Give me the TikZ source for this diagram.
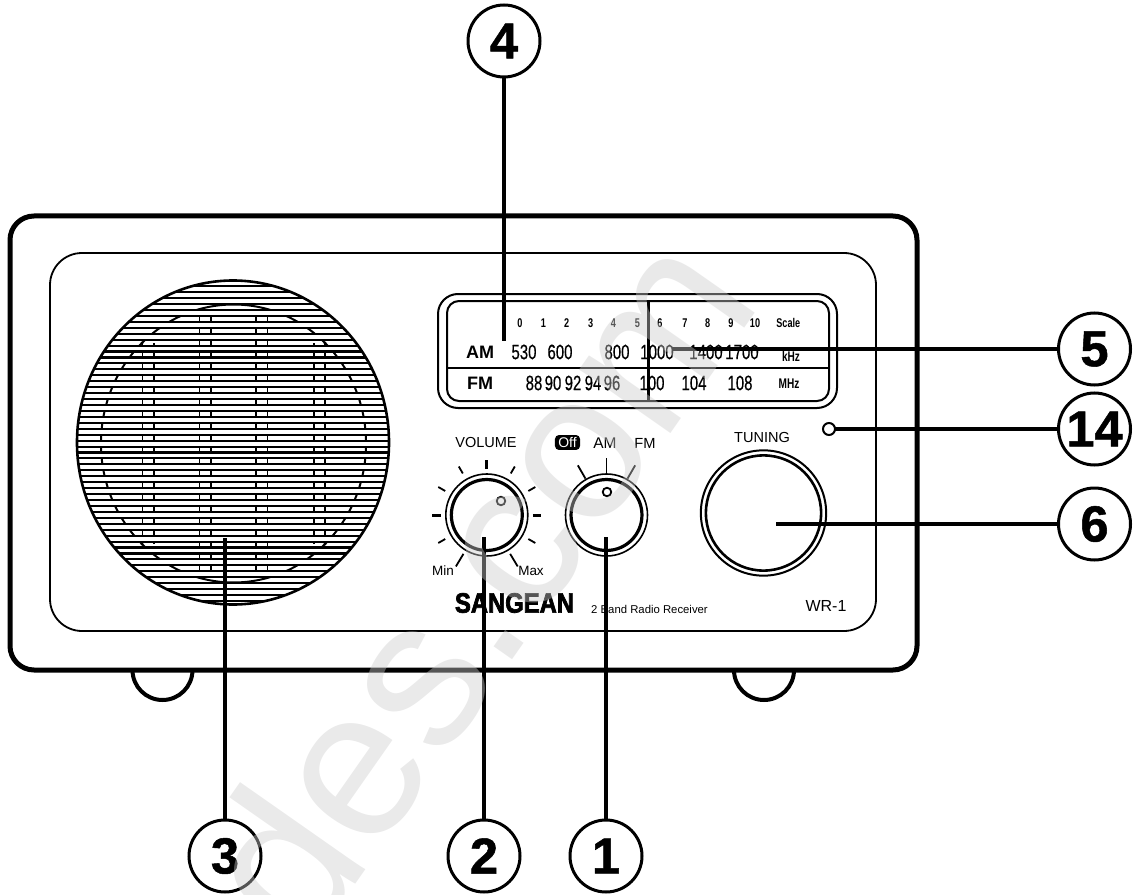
\documentclass[tikz,border=0pt]{standalone}
\usepackage{fontspec}
\setmainfont{Liberation Sans}
\newfontfamily\dialf[FakeStretch=0.72,FakeBold=0.4]{Liberation Sans}
\newfontfamily\dialb[FakeStretch=0.72,BoldFeatures={FakeStretch=0.72}]{Liberation Sans}
\newfontfamily\sgfont[BoldFeatures={FakeBold=2.5,FakeStretch=0.85}]{Liberation Sans}
\newfontfamily\callf[BoldFeatures={FakeBold=1}]{Liberation Sans}
\usetikzlibrary{calc}
\tikzset{
  x=0.75pt,y=-0.75pt,
  px/.style={line width=#1*0.75pt},
  callout/.style={circle,draw=black,px=3,inner sep=0pt,outer sep=0pt,minimum size=54pt,font=\callf\bfseries\fontsize{38}{38}\selectfont},
  lead/.style={px=3.2},
  lbl/.style={inner sep=0pt,outer sep=0pt,anchor=center},
  panel/.style={lbl,font=\fontsize{10.9}{12}\selectfont},
  num/.style={lbl,font=\dialf\fontsize{15.6}{16}\selectfont},
  tiny/.style={lbl,font=\dialb\bfseries\fontsize{9.5}{10}\selectfont},
  unit/.style={lbl,font=\dialb\bfseries\fontsize{10.5}{11}\selectfont},
  band/.style={lbl,font=\bfseries\fontsize{13.5}{14}\selectfont},
  ticka/.style={px=3},
  tickb/.style={px=1.8},
}
\begin{document}
\begin{tikzpicture}
\useasboundingbox (0,0) rectangle (1143,895);
% feet
\coordinate (footL) at (132.5,670);
\coordinate (footR) at (734,670);
\draw[px=4] (footL) arc[start angle=180,end angle=360,radius=22.5pt];
\draw[px=4] (footR) arc[start angle=180,end angle=360,radius=22.5pt];
% cabinet
\draw[px=5,fill=white,rounded corners=18pt] (10,216) rectangle (917,670);
\draw[px=1.8,rounded corners=24pt] (50,253) rectangle (876,631);
% speaker grille
\begin{scope}
  \clip (233,442.5) ellipse [x radius=117pt,y radius=121.5pt];
  \foreach \rx in {199.3,210.7,256,267.3}{\draw[px=1.6] (\rx,310) -- (\rx,577);}
  \foreach \rx in {142.3,153.7,313.7,325}{\draw[px=1.6] (\rx,343) -- (\rx,544);}
  \fill (199.3,310) circle (1.3pt) (267.3,310) circle (1.3pt) (199.3,577) circle (1pt) (267.3,577) circle (1pt);
  \fill (142,343) circle (1.3pt) (325,343) circle (1.3pt) (142,544) circle (1.3pt) (325,544) circle (1.3pt);
  \draw[px=2] (233.5,443.5) ellipse [x radius=99.4pt,y radius=104.25pt];
  \foreach \k in {-5,-3,...,55}{\fill[white] (60,304+5.94*\k) rectangle (400,304+5.94*\k+5.94);}
  \foreach \k in {-5,-4,...,55}{\draw[px=2.1] (60,304+5.94*\k) -- (400,304+5.94*\k);}
\end{scope}
\draw[px=2.6] (233,442.5) ellipse [x radius=117pt,y radius=121.5pt];
% dial window
\draw[px=2,rounded corners=15pt] (438,294) rectangle (837,408);
\draw[px=2,rounded corners=9pt] (447,301) rectangle (829,401);
\coordinate (divL) at (447,368);
\coordinate (divR) at (829,368);
\draw[px=2] (divL) -- (divR);
\foreach \t/\x in {0/520,1/543.3,2/566.7,3/590.7,4/613.3,5/637.3,6/660,7/685,8/707.7,9/731,10/755,Scale/788.3}
  \node[tiny] (s\t) at (\x,323) {\t};
\node[band] (am) at (480,352) {AM};
\node[band] (fm) at (480,383) {FM};
\foreach \t/\x in {530/524,600/560,800/617,1000/657,1400/706,1700/742}
  \node[num] (a\t) at (\x,352) {\t};
\foreach \t/\x in {88/534,90/553,92/573,94/593,96/612,100/652,104/694,108/740}
  \node[num] (f\t) at (\x,383) {\t};
\node[unit] (khz) at (791,356) {kHz};
\node[unit] (mhz) at (789,384) {MHz};
\coordinate (needT) at (648,302);
\coordinate (needB) at (648,401);
\draw[px=3] (needT) -- (needB);
% volume knob
\node[circle,draw,px=1.6,minimum size=61.5pt,inner sep=0pt,outer sep=0pt] (vol) at (486.8,515) {};
\node[circle,draw,px=3.2,minimum size=53.2pt,inner sep=0pt,outer sep=0pt] (voli) at (486.8,515) {};
\node[circle,draw,px=1.8,minimum size=6.4pt,inner sep=0pt] (vold) at (501,501) {};
\foreach \a in {180,90,0}{\draw[ticka] ([shift={(\a:34.5pt)}]vol.center) -- ([shift={(\a:41pt)}]vol.center);}
\foreach \a in {210,150,120,60,30,-30}{\draw[tickb] ([shift={(\a:36pt)}]vol.center) -- ([shift={(\a:42pt)}]vol.center);}
\foreach \a in {239,-59}{\draw[tickb] ([shift={(\a:34pt)}]vol.center) -- ([shift={(\a:45pt)}]vol.center);}
\node[panel] (volt) at (486,442) {VOLUME};
\node[lbl,font=\fontsize{10.1}{11}\selectfont] (mint) at (443,571) {Min};
\node[lbl,font=\fontsize{10.1}{11}\selectfont] (maxt) at (531,571) {Max};
% function knob
\node[circle,draw,px=1.6,minimum size=61.5pt,inner sep=0pt,outer sep=0pt] (fun) at (606.5,515) {};
\node[circle,draw,px=3.2,minimum size=53.2pt,inner sep=0pt,outer sep=0pt] (funi) at (606.5,515) {};
\node[circle,draw,px=1.8,minimum size=6.4pt,inner sep=0pt] (fund) at (607,492) {};
\foreach \a in {90,120,60}{\draw[tickb] ([shift={(\a:31.5pt)}]fun.center) -- ([shift={(\a:43pt)}]fun.center);}
\node[lbl,fill=black,text=white,rounded corners=3pt,minimum width=18.8pt,minimum height=11.2pt,font=\fontsize{10.5}{11}\selectfont] (off) at (567.5,442.5) {Off};
\node[lbl,font=\fontsize{11.6}{12}\selectfont] (amt) at (605,443) {AM};
\node[lbl,font=\fontsize{11}{12}\selectfont] (fmt) at (645,443) {FM};
% tuning knob
\node[circle,draw,px=2,minimum size=94pt,inner sep=0pt,outer sep=0pt] (tun) at (763.5,513) {};
\node[circle,draw,px=2.6,minimum size=86.4pt,inner sep=0pt,outer sep=0pt] (tuni) at (763.5,513) {};
\node[panel] (tunt) at (762,437) {TUNING};
\node[circle,draw,px=2,minimum size=9pt,inner sep=0pt,outer sep=0pt] (led) at (829,429) {};
% brand
\node[lbl,font=\sgfont\bfseries\fontsize{21}{22}\selectfont] (brand) at (514.5,603) {SANGEAN};
\node[lbl,font=\fontsize{8.5}{9}\selectfont] (recv) at (649.5,609) {2 Band Radio Receiver};
\node[lbl,font=\fontsize{12}{13}\selectfont] (model) at (826,606) {WR-1};
% callouts
\node[callout] (n4) at (504,41) {4};
\node[callout] (n5) at (1094.5,349) {5};
\node[callout] (n14) at (1094.5,429) {14};
\node[callout] (n6) at (1094.5,524) {6};
\node[callout] (n3) at (225,856) {3};
\node[callout] (n2) at (484,856) {2};
\node[callout] (n1) at (606,856) {1};
\coordinate (e4) at (504,341);
\coordinate (e5) at (672,349);
\coordinate (e6) at (776,524);
\coordinate (e3) at (225,538);
\coordinate (e2) at (484,537);
\coordinate (e1) at (606,537);
\draw[lead] (n4) -- (e4);
\draw[lead] (n5) -- (e5);
\draw[lead] (n14) -- (led);
\draw[lead] (n6) -- (e6);
\draw[lead] (n3) -- (e3);
\draw[lead] (n2) -- (e2);
\draw[lead] (n1) -- (e1);
% watermark
\node[lbl,anchor=base west,rotate=55,text=black!20,text opacity=0.42,font=\fontsize{158}{158}\selectfont] (wm) at (306.8,954) {des.com};
\end{tikzpicture}
\end{document}
